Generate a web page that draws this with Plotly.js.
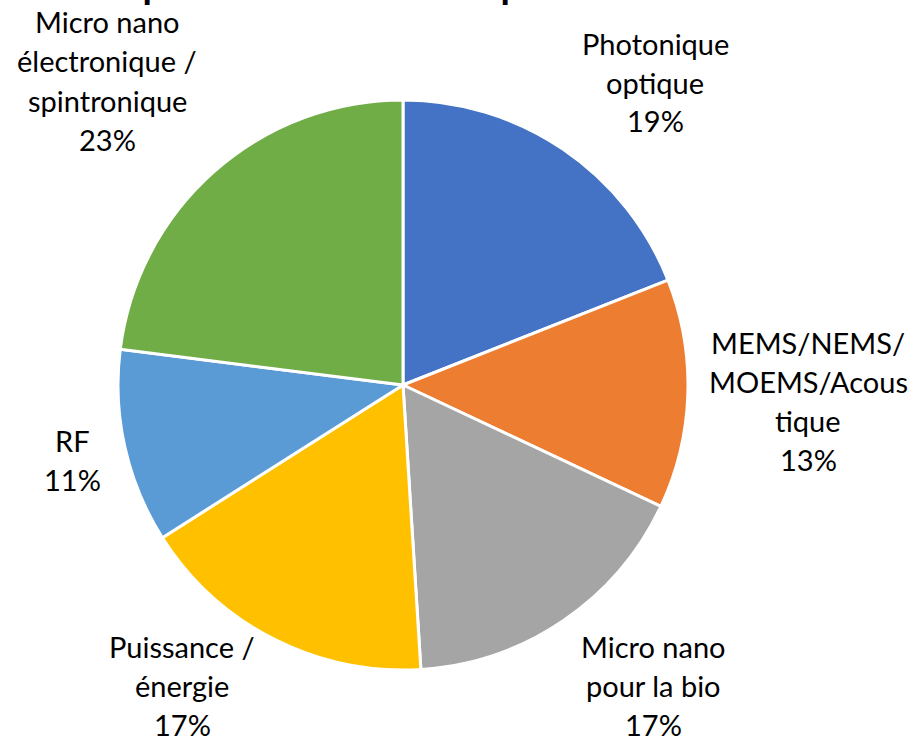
<!DOCTYPE html>
<html><head><meta charset="utf-8">
<script src="https://cdn.plot.ly/plotly-3.0.1.min.js"></script>
<style>html,body{margin:0;padding:0;background:#fff}#chart{width:910px;height:736px}</style>
</head><body><div id="chart"></div>
<script>
const categories = ["Photonique optique", "MEMS/NEMS/MOEMS/Acoustique", "Micro nano pour la bio", "Puissance / énergie", "RF", "Micro nano électronique / spintronique"];
const labelLines = [["Photonique", "optique"], ["MEMS/NEMS/", "MOEMS/Acous", "tique"], ["Micro nano", "pour la bio"], ["Puissance /", "énergie"], ["RF"], ["Micro nano", "électronique /", "spintronique"]];
const values = [19, 13, 17, 17, 11, 23];
const colors = ["#4472C4", "#ED7D31", "#A5A5A5", "#FFC000", "#5B9BD5", "#70AD47"];
const titleText = "Répartition des thèmes par domaine";

// label placement (layout only), pixel centres of first line
const labelPos = [[655, 43], [808, 342], [653, 646], [182, 646], [72, 440], [107, 22]];
const W = 910, H = 736, LH = 39, FS = 29;
const FONT = "Lato, 'Open Sans', sans-serif";

const total = values.reduce((a, b) => a + b, 0);
const annotations = [];
categories.forEach((c, i) => {
  const lines = labelLines[i].concat([Math.round(values[i] / total * 100) + "%"]);
  lines.forEach((t, k) => {
    annotations.push({
      text: t, showarrow: false, xref: "paper", yref: "paper",
      x: labelPos[i][0] / W, y: 1 - (labelPos[i][1] + k * LH) / H,
      xanchor: "center", yanchor: "middle",
      font: {family: FONT, size: FS, color: "#000"}
    });
  });
});
// title (mostly cut off at top of picture; only descenders show)
annotations.push({
  text: "<b>" + titleText + "</b>", showarrow: false, xref: "paper", yref: "paper",
  x: 0.445, y: 1 - 9 / H, xanchor: "center", yanchor: "bottom",
  font: {family: FONT, size: 38, color: "#000"}
});

const trace = {
  type: "pie", labels: categories, values: values, sort: false,
  direction: "clockwise", rotation: 0, textinfo: "none", hoverinfo: "label+percent",
  marker: {colors: colors, line: {color: "#FFFFFF", width: 3}},
  domain: {x: [118 / W, 688 / W], y: [66 / H, 636 / H]}
};
Plotly.newPlot("chart", [trace], {
  width: W, height: H, margin: {l: 0, r: 0, t: 0, b: 0},
  showlegend: false, paper_bgcolor: "#fff", annotations: annotations
}, {displayModeBar: false, staticPlot: true});
</script></body></html>
